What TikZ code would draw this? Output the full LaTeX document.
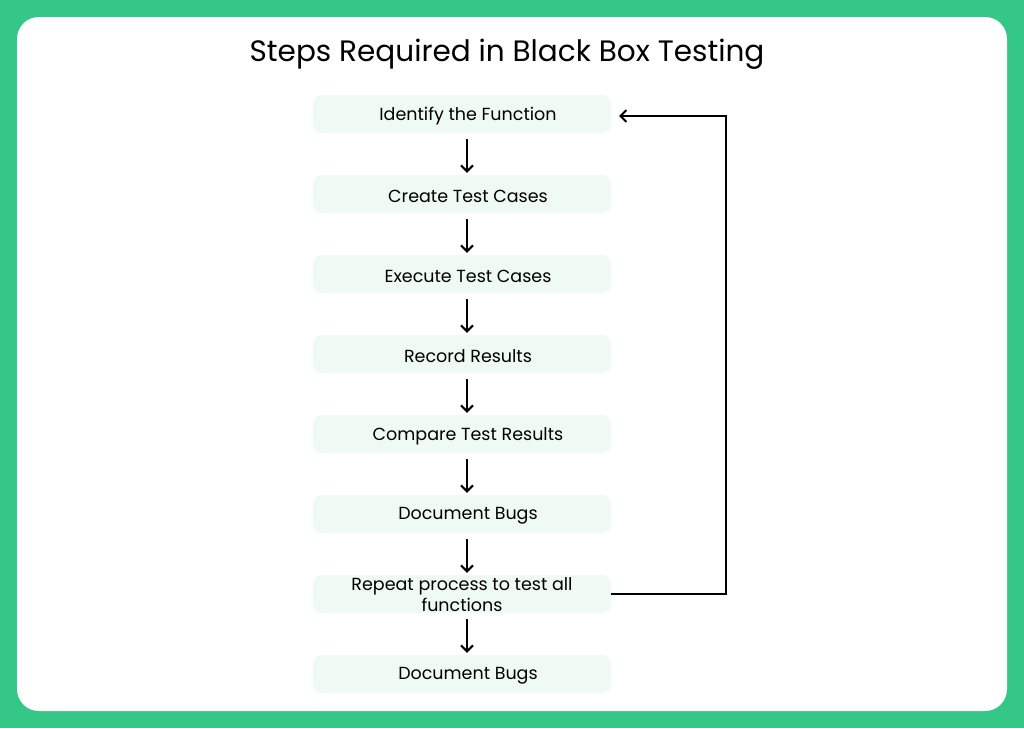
\documentclass[tikz,border=0pt]{standalone}
\usepackage{fontspec}
\setmainfont{Poppins}
\usetikzlibrary{arrows.meta}
\definecolor{bggreen}{HTML}{35C785}
\definecolor{boxfill}{HTML}{EFFAF5}
\begin{document}
\begin{tikzpicture}[x=1pt,y=-1pt,
  stepbox/.style={fill=boxfill,draw=none,rounded corners=9pt,minimum width=298pt,minimum height=38pt,inner sep=0pt},
  steptext/.style={align=center,font=\fontsize{17.5}{21}\selectfont,inner sep=0pt},
  flow/.style={-{Straight Barb[length=6pt,width=12pt]},line width=2pt}]
\useasboundingbox (0,0) rectangle (1024,728);
\fill[bggreen] (0,0) rectangle (1024,728);
\fill[white,rounded corners=22pt] (17,17) rectangle (1007,711);
\node[font=\fontsize{29.5}{34}\selectfont] (title) at (507,54) {Steps Required in Black Box Testing};
\foreach \i/\y in {1/114,2/194,3/274,4/354,5/434,6/514,7/594,8/674}{
  \node[stepbox] (b\i) at (462,\y) {};
}
\node[steptext] (t1) at (468,116) {Identify the Function};
\node[steptext] (t2) at (468,196) {Create Test Cases};
\node[steptext] (t3) at (468,276) {Execute Test Cases};
\node[steptext] (t4) at (468,356) {Record Results};
\node[steptext] (t5) at (468,436) {Compare Test Results};
\node[steptext] (t6) at (468,516) {Document Bugs};
\node[steptext] (t7) at (462,595) {Repeat process to test all\\functions};
\node[steptext] (t8) at (468,676) {Document Bugs};
\foreach \a/\b in {1/2,2/3,3/4,4/5,5/6,6/7,7/8}{
  \draw[flow] ([xshift=5pt,yshift=-6pt]b\a.south) -- ([xshift=5pt,yshift=2pt]b\b.north);
}
\coordinate (c1) at (726,594);
\coordinate (c2) at (726,116);
\coordinate (c3) at (619,116);
\draw[flow] (b7.east) -- (c1) -- (c2) -- (c3);
\end{tikzpicture}
\end{document}
